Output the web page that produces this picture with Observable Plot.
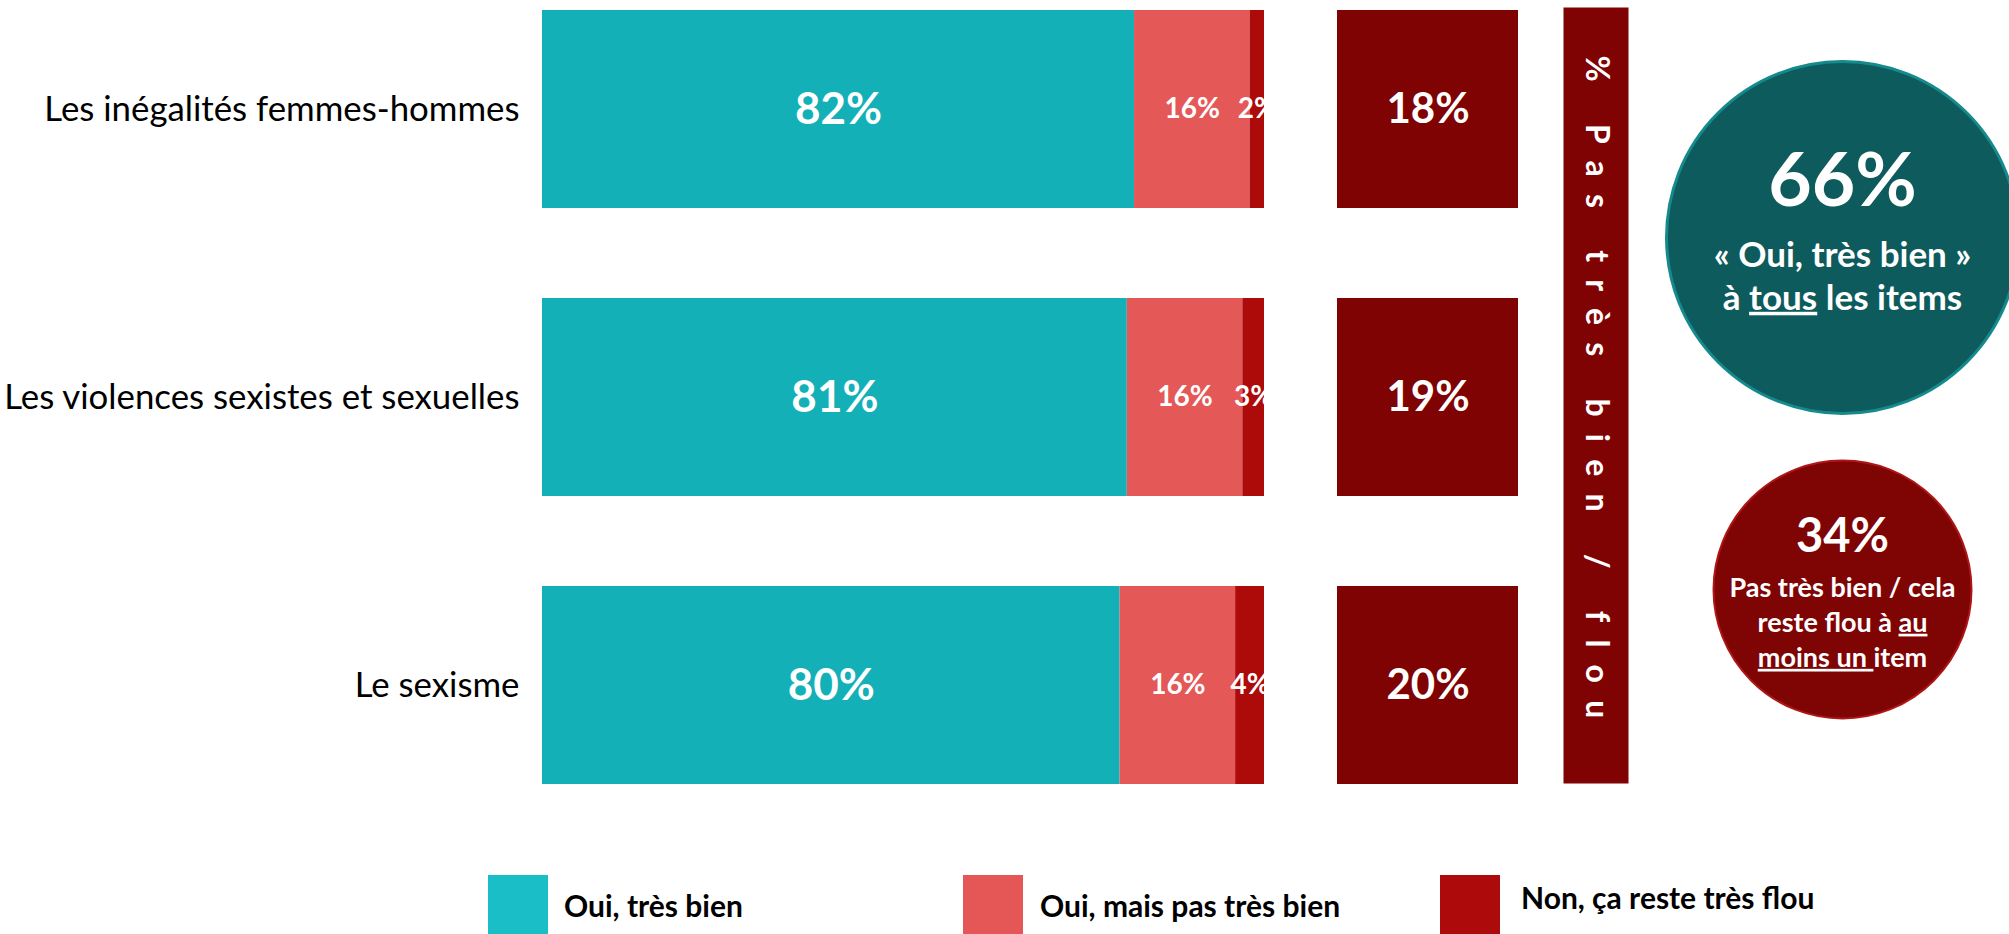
<!DOCTYPE html>
<html>
<head>
<meta charset="utf-8">
<script src="https://cdn.jsdelivr.net/npm/d3@7"></script>
<script src="https://cdn.jsdelivr.net/npm/@observablehq/plot@0.6"></script>
<style>
html, body { margin: 0; padding: 0; background: #fff; overflow: hidden; }
#root { position: relative; width: 2009px; height: 934px; font-family: Lato, "Open Sans", sans-serif; }
#root > svg { position: absolute; left: 0; top: 0; }
.legend { position: absolute; top: 875px; left: 0; width: 2009px; height: 59px; overflow: hidden; }
.legend .sw { position: absolute; top: 0; width: 60px; height: 62px; }
.legend .lb { position: absolute; font-weight: 700; font-size: 30px; line-height: 30px; color: #000; white-space: nowrap; }
</style>
</head>
<body>
<div id="root"></div>
<script>
// ---------- data ----------
const categories = ["Les inégalités femmes-hommes", "Les violences sexistes et sexuelles", "Le sexisme"];
const responses = ["Oui, très bien", "Oui, mais pas très bien", "Non, ça reste très flou"];
const ouiTresBien = [82, 81, 80];
const ouiMaisPasTresBien = [16, 16, 16];
const nonTresFlou = [2, 3, 4];
const pasTresBienFlou = [18, 19, 20];
const bannerLabel = "% Pas très bien / flou";
const summaryKeys = ["tous", "auMoinsUn"];
const summaryValues = [66, 34];
const summaryTexts = ["« Oui, très bien »\nà tous les items", "Pas très bien / cela\nreste flou à au\nmoins un item"];

// ---------- styles ----------
const responseColors = ["#13b0b7", "#e55858", "#ad0a0a"];
const legendColors = ["#19bec6", "#e55757", "#ad0b0b"];
const boxColor = "#7f0303";

const W = 2009, H = 800;
const root = document.getElementById("root");
const font = "Lato, 'Open Sans', sans-serif";

const rows = categories.flatMap((c, i) => [
  {category: c, response: responses[0], value: ouiTresBien[i]},
  {category: c, response: responses[1], value: ouiMaisPasTresBien[i]},
  {category: c, response: responses[2], value: nonTresFlou[i]}
]);
const yBand = {domain: categories, paddingInner: 0.314, paddingOuter: 0, align: 0.5};

// ---------- stacked bars ----------
const barsPlot = Plot.plot({
  width: W, height: H,
  marginLeft: 542, marginRight: W - 1264, marginTop: 9, marginBottom: H - 784,
  style: {fontFamily: font, fontSize: "34.8px", color: "#000", background: "transparent"},
  x: {domain: [0, 100], axis: null},
  y: {...yBand, label: null, tickSize: 0, tickPadding: 23},
  color: {domain: responses, range: responseColors},
  marks: [
    Plot.barX(rows, Plot.stackX({x: "value", y: "category", fill: "response", inset: 0})),
    Plot.text(rows, Plot.stackX({
      x: "value", y: "category",
      text: d => d.value + "%",
      fill: "white", fontWeight: "bold",
      fontSize: d => d.response === responses[0] ? 44 : 28,
      clip: true
    }))
  ]
});
root.appendChild(barsPlot);

// ---------- total boxes ----------
const boxRows = categories.map((c, i) => ({category: c, value: pasTresBienFlou[i]}));
const boxesPlot = Plot.plot({
  width: W, height: H,
  marginLeft: 1337, marginRight: W - 1518, marginTop: 9, marginBottom: H - 784,
  style: {fontFamily: font, background: "transparent"},
  x: {domain: [bannerLabel], padding: 0, axis: null},
  y: {...yBand, axis: null},
  marks: [
    Plot.cell(boxRows, {x: () => bannerLabel, y: "category", fill: boxColor, inset: 0}),
    Plot.text(boxRows, {x: () => bannerLabel, y: "category", text: d => d.value + "%", fill: "white", fontWeight: "bold", fontSize: 42})
  ]
});
root.appendChild(boxesPlot);

// ---------- vertical banner ----------
const bannerPlot = Plot.plot({
  width: W, height: H,
  marginLeft: 1563, marginRight: W - 1628, marginTop: 7, marginBottom: H - 783,
  style: {fontFamily: font, background: "transparent"},
  marks: [
    Plot.frame({fill: boxColor, stroke: "none"}),
    Plot.text([bannerLabel], {text: d => d, frameAnchor: "middle", rotate: 90, fill: "white", fontWeight: "bold", fontSize: 32})
  ]
});
d3.select(bannerPlot).selectAll("text").attr("letter-spacing", "17.2px");
root.appendChild(bannerPlot);

// ---------- summary circles ----------
const summary = summaryKeys.map((k, i) => ({key: k, value: summaryValues[i], text: summaryTexts[i]}));
const sx = () => "summary";
const circlesPlot = Plot.plot({
  width: W, height: H,
  marginLeft: 1675, marginRight: 0, marginTop: 237, marginBottom: H - 589,
  style: {fontFamily: font, background: "transparent", overflow: "visible"},
  x: {type: "point", domain: ["summary"], axis: null},
  y: {type: "point", domain: summaryKeys, padding: 0, axis: null},
  marks: [
    Plot.dot([summary[0]], {x: sx, y: "key", r: 176, fill: "#0e5b5e", stroke: "#158a8d", strokeWidth: 3}),
    Plot.dot([summary[1]], {x: sx, y: "key", r: 129, fill: "#7f0404", stroke: "#b01616", strokeWidth: 2}),
    Plot.text([summary[0]], {x: sx, y: "key", text: d => d.value + "%", dy: -56, fontSize: 75, fontWeight: "bold", fill: "white"}),
    Plot.text([summary[0]], {x: sx, y: "key", text: "text", dy: 37, fontSize: 35, lineHeight: 1.23, fontWeight: "bold", fill: "white"}),
    Plot.text([summary[1]], {x: sx, y: "key", text: d => d.value + "%", dy: -53, fontSize: 47, fontWeight: "bold", fill: "white"}),
    Plot.text([summary[1]], {x: sx, y: "key", text: "text", dy: 31, fontSize: 27, lineHeight: 1.3, fontWeight: "bold", fill: "white"})
  ]
});
function underline(svg, line, parts) {
  d3.select(svg).selectAll("tspan").each(function() {
    if (this.textContent === line) {
      this.textContent = "";
      for (const [t, u] of parts) {
        const s = document.createElementNS("http://www.w3.org/2000/svg", "tspan");
        s.textContent = t;
        if (u) s.setAttribute("text-decoration", "underline");
        this.appendChild(s);
      }
    }
  });
}
underline(circlesPlot, "à tous les items", [["à ", false], ["tous", true], [" les items", false]]);
underline(circlesPlot, "reste flou à au", [["reste flou à ", false], ["au", true]]);
underline(circlesPlot, "moins un item", [["moins un ", true], ["item", false]]);
root.appendChild(circlesPlot);

// ---------- legend ----------
const legendSwatchX = [488, 963, 1440];
const legendTextX = [564, 1040, 1521];
const legendTextTop = [15, 15, 7];
const legend = d3.select(root).append("div").attr("class", "legend");
responses.forEach((r, i) => {
  legend.append("div").attr("class", "sw").style("left", legendSwatchX[i] + "px").style("background", legendColors[i]);
  legend.append("div").attr("class", "lb").style("left", legendTextX[i] + "px").style("top", legendTextTop[i] + "px").text(r);
});
</script>
</body>
</html>
